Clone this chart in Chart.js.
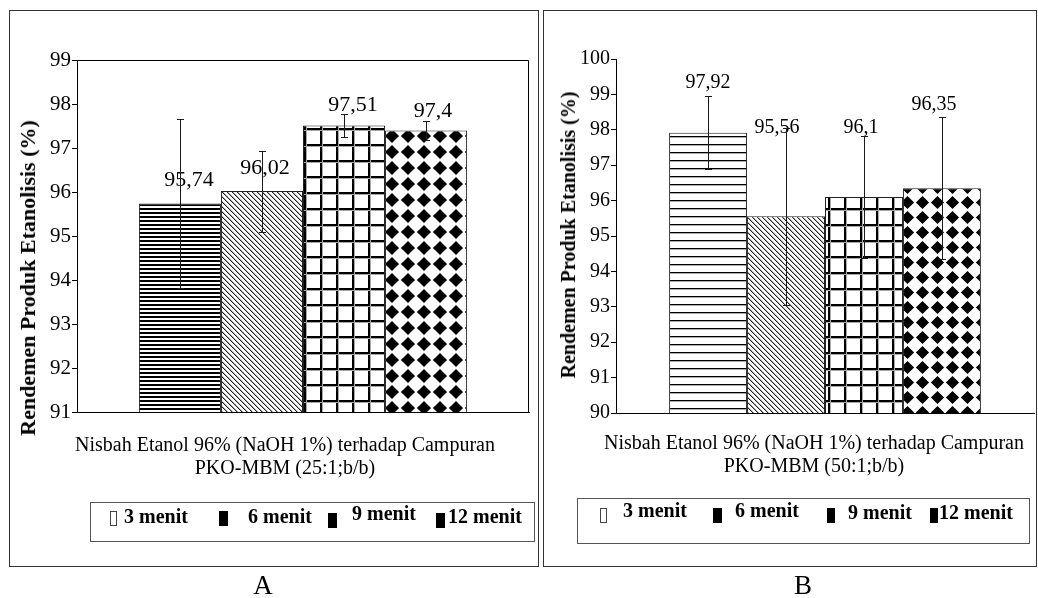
<!DOCTYPE html>
<html><head><meta charset="utf-8">
<script src="https://cdn.jsdelivr.net/npm/chart.js@4.4.1/dist/chart.umd.min.js"></script>
<style>
html,body{margin:0;padding:0;background:#fff;}
body{width:1038px;height:598px;position:relative;overflow:hidden;font-family:"Liberation Serif","Times New Roman",serif;color:#000;}
.frame{position:absolute;border:1px solid #333;box-sizing:border-box;}
.legend{position:absolute;border:1px solid #555;box-sizing:border-box;}
.txt{position:absolute;white-space:nowrap;line-height:1;}
.wrap{position:absolute;top:0;height:598px;}
.sw{position:absolute;box-sizing:border-box;}
</style></head><body>
<div class="frame" style="left:9px;top:10px;width:530px;height:557px"></div>
<div class="frame" style="left:543px;top:10px;width:494px;height:557px"></div>
<div class="wrap" style="left:0;width:540px"><canvas id="ca"></canvas></div>
<div class="wrap" style="left:540px;width:498px"><canvas id="cb"></canvas></div>
<script>
// ---------------- DATA ----------------
const seriesNames = ['3 menit', '6 menit', '9 menit', '12 menit'];
const categoryA = ['PKO-MBM 25:1'];
const categoryB = ['PKO-MBM 50:1'];
const valuesA = [95.74, 96.02, 97.51, 97.4];
const errorsA = [1.93, 0.92, 0.26, 0.22];
const valuesB = [97.92, 95.56, 96.1, 96.35];
const errorsB = [1.04, 2.5, 1.73, 2.0];
const yRangeA = [91, 99];
const yRangeB = [90, 100];
const yTitle = 'Rendemen Produk Etanolisis (%)';
const xTitleA = ['Nisbah Etanol 96% (NaOH 1%) terhadap Campuran', 'PKO-MBM (25:1;b/b)'];
const xTitleB = ['Nisbah Etanol 96% (NaOH 1%) terhadap Campuran', 'PKO-MBM (50:1;b/b)'];
const panelCaptions = ['A', 'B'];

// ---------------- STYLE ----------------
const FONT = '"Liberation Serif", "Times New Roman", serif';

function makePattern(kind, size) {
  const c = document.createElement('canvas');
  const g = c.getContext('2d');
  const s = size;
  c.width = s; c.height = s;
  g.fillStyle = '#fff'; g.fillRect(0, 0, s, s);
  if (kind === 'hdense') {
    g.fillStyle = '#000'; g.fillRect(0, 0, s, 2);
  } else if (kind === 'hnarrow') {
    g.fillStyle = '#000'; g.fillRect(0, 0, s, 1);
    g.fillStyle = '#aaa'; g.fillRect(0, 1, s, 1);
  } else if (kind === 'diag') {
    for (let i = 0; i < s; i++) {
      g.fillStyle = '#222'; g.fillRect(i, i, 1, 1);
      g.fillStyle = '#aaa'; g.fillRect((i + 1) % s, i, 1, 1);
    }
  } else if (kind === 'grid') {
    g.fillStyle = '#000';
    g.fillRect(0, 0, s, 2); g.fillRect(0, 0, 2, s);
    g.fillStyle = '#aaa';
    g.fillRect(0, 2, s, 1); g.fillRect(2, 0, 1, s);
  } else if (kind === 'diamond') {
    const h = s / 2, r = s * 0.44;
    g.fillStyle = '#000';
    g.beginPath();
    g.moveTo(h, h - r); g.lineTo(h + r, h); g.lineTo(h, h + r); g.lineTo(h - r, h);
    g.closePath(); g.fill();
  }
  return g.createPattern(c, 'repeat');
}

const annotPlugin = {
  id: 'annot',
  afterDatasetsDraw(chart, args, o) {
    const ctx = chart.ctx, ys = chart.scales.y, ca = chart.chartArea;
    ctx.save();
    if (o.frame) {
      ctx.strokeStyle = '#000'; ctx.lineWidth = 1;
      ctx.beginPath();
      ctx.moveTo(ca.left, ca.top + 0.5);
      ctx.lineTo(ca.right - 0.5, ca.top + 0.5);
      ctx.lineTo(ca.right - 0.5, ca.bottom);
      ctx.stroke();
    }
    // value labels
    ctx.fillStyle = '#000';
    ctx.font = o.labelSize + 'px ' + FONT;
    ctx.textAlign = 'center'; ctx.textBaseline = 'middle';
    chart.data.datasets.forEach((ds, i) => {
      const bar = chart.getDatasetMeta(i).data[0];
      const txt = String(ds.data[0]).replace('.', ',');
      ctx.fillText(txt, bar.x + o.dx[i], bar.y + o.dy[i]);
    });
    // error bars
    ctx.strokeStyle = '#1a1a1a'; ctx.lineWidth = 1;
    chart.data.datasets.forEach((ds, i) => {
      const bar = chart.getDatasetMeta(i).data[0];
      const v = ds.data[0], e = o.errors[i];
      const x = Math.round(bar.x) + 0.5;
      const yt = Math.round(ys.getPixelForValue(v + e)) + 0.5;
      const yb = Math.round(ys.getPixelForValue(v - e)) + 0.5;
      ctx.beginPath();
      ctx.moveTo(x, yt); ctx.lineTo(x, yb);
      ctx.moveTo(x - 3.5, yt); ctx.lineTo(x + 3.5, yt);
      ctx.moveTo(x - 3.5, yb); ctx.lineTo(x + 3.5, yb);
      ctx.stroke();
    });
    ctx.restore();
  }
};

function buildChart(id, cfg) {
  const datasets = seriesNames.map((n, i) => ({
    label: n,
    data: [cfg.values[i]],
    backgroundColor: cfg.patterns[i],
    borderColor: '#222',
    borderWidth: 1
  }));
  return new Chart(document.getElementById(id), {
    type: 'bar',
    data: { labels: cfg.labels, datasets },
    plugins: [annotPlugin],
    options: {
      responsive: true, maintainAspectRatio: false, animation: false,
      events: [],
      layout: { padding: cfg.padding },
      datasets: { bar: { categoryPercentage: cfg.catPct, barPercentage: 1 } },
      plugins: {
        legend: { display: false }, tooltip: { enabled: false },
        annot: { frame: cfg.frame, errors: cfg.errors, dx: cfg.dx, dy: cfg.dy, labelSize: cfg.labelSize }
      },
      scales: {
        x: {
          grid: { display: false },
          border: { display: true, color: '#000', width: 1 },
          ticks: { display: false },
          afterFit(s) { s.height = cfg.xHeight; }
        },
        y: {
          min: cfg.range[0], max: cfg.range[1],
          ticks: { stepSize: 1, autoSkip: false, color: '#000', padding: 1,
                   font: { family: FONT, size: cfg.tickSize } },
          grid: { drawOnChartArea: false, drawTicks: true, tickLength: 5, color: '#000' },
          border: { display: true, color: '#000', width: 1 },
          afterFit(s) { s.width = cfg.yWidth; }
        }
      }
    }
  });
}

buildChart('ca', {
  labels: categoryA, values: valuesA, errors: errorsA, range: yRangeA,
  patterns: [makePattern('hdense', 4), makePattern('diag', 5), makePattern('grid', 16), makePattern('diamond', 16)],
  padding: { top: 60, right: 11, left: 0, bottom: 0 }, yWidth: 77, xHeight: 186,
  catPct: 0.726, frame: true, tickSize: 21, labelSize: 22,
  dx: [9, 3, 9, 7], dy: [-23, -23, -20, -19]
});
buildChart('cb', {
  labels: categoryB, values: valuesB, errors: errorsB, range: yRangeB,
  patterns: [makePattern('hnarrow', 8), makePattern('diag', 5), makePattern('grid', 16), makePattern('diamond', 15)],
  padding: { top: 59, right: 4, left: 0, bottom: 0 }, yWidth: 76, xHeight: 185,
  catPct: 0.746, frame: false, tickSize: 20, labelSize: 20,
  dx: [0, -9, -3, -8], dy: [-50, -88, -69, -83]
});

// ---------------- HTML TEXT (titles, legends, captions) ----------------
function addText(str, x, baseline, size, bold, align) {
  const d = document.createElement('div');
  d.className = 'txt';
  d.textContent = str;
  d.style.fontSize = size + 'px';
  d.style.fontWeight = bold ? 'bold' : 'normal';
  d.style.top = (baseline - 0.8375 * size) + 'px';
  d.style.left = x + 'px';
  if (align === 'center') d.style.transform = 'translateX(-50%)';
  document.body.appendChild(d);
  return d;
}
function addRotated(str, cx, cy, size) {
  const d = document.createElement('div');
  d.className = 'txt';
  d.textContent = str;
  d.style.fontSize = size + 'px';
  d.style.fontWeight = 'bold';
  d.style.left = cx + 'px'; d.style.top = cy + 'px';
  d.style.transform = 'translate(-50%,-50%) rotate(-90deg)';
  document.body.appendChild(d);
}
function addBox(cls, l, t, w, h, extra) {
  const d = document.createElement('div');
  d.className = cls;
  Object.assign(d.style, { left: l + 'px', top: t + 'px', width: w + 'px', height: h + 'px' }, extra || {});
  document.body.appendChild(d);
}

// axis titles
addRotated(yTitle, 28, 278, 22);
addRotated(yTitle, 568, 235, 20);
addText(xTitleA[0], 285, 451, 20, false, 'center');
addText(xTitleA[1], 285, 474, 20, false, 'center');
addText(xTitleB[0], 814, 449, 20, false, 'center');
addText(xTitleB[1], 814, 472, 20, false, 'center');

// legends
const legendLayout = [
  { box: [90, 502, 445, 40], sw: [[110, 511, 7], [219, 511, 9], [328, 513, 9], [436, 513, 9]],
    tx: [[124, 523], [248, 523], [352, 520], [448, 523]] },
  { box: [577, 498, 453, 46], sw: [[600, 508, 7], [713, 508, 9], [827, 508, 8], [930, 508, 8]],
    tx: [[623, 517], [735, 517], [848, 519], [939, 519]] }
];
legendLayout.forEach(L => {
  addBox('legend', L.box[0], L.box[1], L.box[2], L.box[3]);
  seriesNames.forEach((n, i) => {
    const s = L.sw[i];
    addBox('sw', s[0], s[1], s[2], 15, i === 0 ? { border: '1px solid #444', background: '#fff' } : { background: '#000' });
    addText(n, L.tx[i][0], L.tx[i][1], 20, true, 'left');
  });
});

// captions
addText(panelCaptions[0], 263, 595, 27, false, 'center');
addText(panelCaptions[1], 803, 595, 27, false, 'center');
</script>
</body></html>
